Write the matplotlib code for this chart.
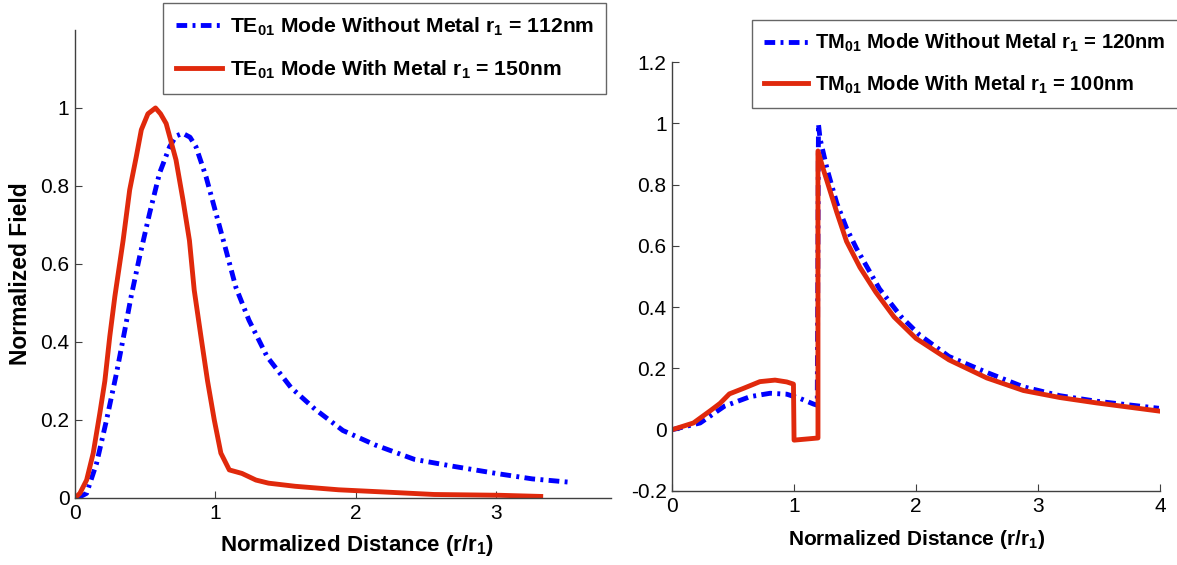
import matplotlib
matplotlib.use("Agg")
import matplotlib.pyplot as plt
from matplotlib.ticker import FormatStrFormatter

# TE01 (left panel)
te_x_no_metal = [0.02, 0.083, 0.154, 0.225, 0.296, 0.355, 0.40, 0.461, 0.532, 0.603, 0.674, 0.72,
                 0.768, 0.82, 0.863, 0.934, 1.005, 1.076, 1.147, 1.24, 1.37, 1.54, 1.71, 1.91, 2.14,
                 2.42, 2.70, 3.01, 3.26, 3.54]
te_y_no_metal = [0.0, 0.012, 0.089, 0.20, 0.32, 0.43, 0.516, 0.619, 0.73, 0.833, 0.90, 0.928,
                 0.935, 0.925, 0.90, 0.824, 0.73, 0.636, 0.54, 0.456, 0.362, 0.283, 0.228, 0.173,
                 0.136, 0.099, 0.081, 0.0625, 0.049, 0.04]
te_x_metal = [0.0, 0.035, 0.083, 0.13, 0.177, 0.213, 0.248, 0.284, 0.343, 0.39, 0.437, 0.473, 0.52,
              0.574, 0.61, 0.65, 0.72, 0.77, 0.816, 0.85, 0.898, 0.945, 0.993, 1.04, 1.10, 1.19,
              1.29, 1.38, 1.57, 1.88, 2.28, 2.56, 3.02, 3.32]
te_y_metal = [0.0, 0.012, 0.046, 0.115, 0.217, 0.30, 0.414, 0.516, 0.66, 0.79, 0.875, 0.944, 0.985,
              1.0, 0.985, 0.96, 0.867, 0.764, 0.66, 0.533, 0.414, 0.30, 0.20, 0.115, 0.072, 0.063,
              0.046, 0.038, 0.030, 0.021, 0.014, 0.009, 0.007, 0.004]

# TM01 (right panel)
tm_x_no_metal = [0.0, 0.23, 0.43, 0.64, 0.803, 0.94, 1.05, 1.158, 1.19, 1.2, 1.213, 1.27, 1.35,
                 1.43, 1.51, 1.70, 1.88, 2.03, 2.27, 2.58, 2.88, 3.18, 3.48, 3.99]
tm_y_no_metal = [0.0, 0.022, 0.077, 0.108, 0.119, 0.116, 0.102, 0.084, 0.08, 0.998, 0.95, 0.852,
                 0.74, 0.658, 0.593, 0.46, 0.368, 0.309, 0.239, 0.187, 0.14, 0.111, 0.093, 0.07]
tm_x_metal = [0.0, 0.175, 0.32, 0.393, 0.47, 0.585, 0.72, 0.844, 0.94, 0.995, 1.0, 1.196, 1.196,
              1.24, 1.35, 1.43, 1.54, 1.67, 1.82, 2.0, 2.27, 2.58, 2.88, 3.18, 3.48, 3.99]
tm_y_metal = [0.0, 0.022, 0.064, 0.086, 0.117, 0.135, 0.157, 0.162, 0.156, 0.149, -0.034, -0.027,
              0.91, 0.85, 0.71, 0.615, 0.53, 0.449, 0.368, 0.298, 0.228, 0.169, 0.128, 0.105,
              0.0875, 0.061]

te_labels = [r'TE$_\mathbf{01}$ Mode Without Metal r$_\mathbf{1}$ = 112nm',
             r'TE$_\mathbf{01}$ Mode With Metal r$_\mathbf{1}$ = 150nm']
tm_labels = [r'TM$_\mathbf{01}$ Mode Without Metal r$_\mathbf{1}$ = 120nm',
             r'TM$_\mathbf{01}$ Mode With Metal r$_\mathbf{1}$ = 100nm']

plt.rcParams['font.family'] = ['Liberation Sans', 'DejaVu Sans']
plt.rcParams['mathtext.fontset'] = 'custom'
plt.rcParams['mathtext.bf'] = 'Liberation Sans:bold'
plt.rcParams['mathtext.rm'] = 'Liberation Sans'

BLUE = '#0000ff'
RED = '#e0290c'
DASHDOT = (0, (2.2, 1.1, 0.6, 1.1))

fig = plt.figure(figsize=(11.77, 5.65), dpi=100)
ax1 = fig.add_axes([0.0637, 0.1186, 0.4553, 0.8284])
ax2 = fig.add_axes([0.571, 0.131, 0.4146, 0.759])


def style_axes(ax):
    for side in ['top', 'right']:
        ax.spines[side].set_visible(False)
    for side in ['left', 'bottom']:
        ax.spines[side].set_color('#404040')
        ax.spines[side].set_linewidth(1.0)
    ax.tick_params(direction='in', length=5, width=0.8, labelsize=15, colors='#404040',
                   labelcolor='black', pad=4)
    ax.yaxis.set_major_formatter(FormatStrFormatter('%g'))
    ax.xaxis.set_major_formatter(FormatStrFormatter('%g'))


# left panel
l1, = ax1.plot(te_x_no_metal, te_y_no_metal, color=BLUE, lw=3.5, ls=DASHDOT)
l2, = ax1.plot(te_x_metal, te_y_metal, color=RED, lw=3.5)
ax1.set_xlim(0, 3.82)
ax1.set_ylim(0, 1.2)
ax1.set_yticks([0, 0.2, 0.4, 0.6, 0.8, 1.0])
ax1.set_xticks([0, 1, 2, 3])
style_axes(ax1)
ax1.set_ylabel('Normalized Field', fontsize=16.5, fontweight='bold')
ax1.yaxis.set_label_coords(-0.08, 0.48)
ax1.set_xlabel(r'Normalized Distance (r/r$_\mathbf{1}$)', fontsize=16, fontweight='bold')
ax1.xaxis.set_label_coords(0.526, -0.075)

leg1 = fig.legend([l1, l2], te_labels, loc='upper left', bbox_to_anchor=(163 / 1177, 1 - 3 / 565),
                  frameon=True, fancybox=False, edgecolor='#404040',
                  prop={'weight': 'bold', 'size': 15.2}, handlelength=2.2, borderaxespad=0,
                  labelspacing=0.95, borderpad=0.6, handletextpad=0.35)
leg1.get_frame().set_linewidth(1.0)

# right panel
l3, = ax2.plot(tm_x_no_metal, tm_y_no_metal, color=BLUE, lw=3.5, ls=DASHDOT)
l4, = ax2.plot(tm_x_metal, tm_y_metal, color=RED, lw=3.5)
ax2.set_xlim(0, 4)
ax2.set_ylim(-0.2, 1.2)
ax2.set_yticks([-0.2, 0, 0.2, 0.4, 0.6, 0.8, 1.0, 1.2])
ax2.set_xticks([0, 1, 2, 3, 4])
style_axes(ax2)
ax2.set_xlabel(r'Normalized Distance (r/r$_\mathbf{1}$)', fontsize=15, fontweight='bold', labelpad=9)

leg2 = fig.legend([l3, l4], tm_labels, loc='upper left', bbox_to_anchor=(752 / 1177, 1 - 20 / 565),
                  frameon=True, fancybox=False, edgecolor='#404040',
                  prop={'weight': 'bold', 'size': 14.5}, handlelength=2.2, borderaxespad=0,
                  labelspacing=0.95, borderpad=0.6, handletextpad=0.35)
leg2.get_frame().set_linewidth(1.0)

fig.savefig('out.png', dpi=100)
